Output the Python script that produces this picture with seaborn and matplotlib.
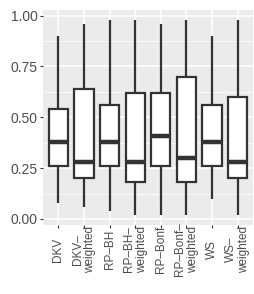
import pandas as pd
import matplotlib.pyplot as plt
import seaborn as sns

methods = ["DKV", "DKV–\nweighted", "RP–BH", "RP–BH–\nweighted",
           "RP–Bonf", "RP–Bonf–\nweighted", "WS", "WS–\nweighted"]
lower = [0.08, 0.06, 0.04, 0.02, 0.02, 0.02, 0.10, 0.02]
q1 = [0.26, 0.20, 0.26, 0.18, 0.26, 0.18, 0.26, 0.20]
median = [0.38, 0.28, 0.38, 0.28, 0.41, 0.30, 0.38, 0.28]
q3 = [0.54, 0.64, 0.56, 0.62, 0.62, 0.70, 0.56, 0.60]
upper = [0.90, 0.96, 0.98, 0.98, 0.96, 0.98, 0.90, 0.98]

# five points per method -> exact quartiles with linear percentiles
rows = []
for i, m in enumerate(methods):
    for v in (lower[i], q1[i], median[i], q3[i], upper[i]):
        rows.append({"method": m, "value": v})
df = pd.DataFrame(rows)

sns.set_theme(style="darkgrid", rc={
    "axes.facecolor": "#EBEBEB",
    "grid.color": "white",
    "axes.edgecolor": "none",
})
plt.rcParams["font.family"] = ["Liberation Sans", "DejaVu Sans"]

fig = plt.figure(figsize=(2.55, 2.94), dpi=100)
ax = fig.add_axes([0.169, 0.236, 0.823, 0.730])

dark = "#333333"
sns.boxplot(data=df, x="method", y="value", order=methods, whis=(0, 100),
            width=0.75, color="white", linecolor=dark, linewidth=1.6,
            showcaps=False, showfliers=False,
            medianprops={"linewidth": 3.2, "color": dark},
            boxprops={"facecolor": "white", "edgecolor": dark},
            ax=ax, zorder=3)

ax.set_xlim(-0.6, len(methods) - 0.4)
ax.set_ylim(-0.028, 1.028)
ax.set_yticks([0, 0.25, 0.5, 0.75, 1.0])
ax.set_yticklabels(["0.00", "0.25", "0.50", "0.75", "1.00"])
ax.set_yticks([0.125, 0.375, 0.625, 0.875], minor=True)
ax.grid(which="major", color="white", linewidth=1.1)
ax.grid(which="minor", axis="y", color="white", linewidth=0.55)
ax.set_axisbelow(True)
ax.set_xlabel("")
ax.set_ylabel("")

ax.tick_params(axis="y", which="major", length=2.5, width=0.8, color=dark,
               labelsize=10, labelcolor="#4D4D4D", pad=1.5, left=True)
ax.tick_params(axis="y", which="minor", length=0)
ax.tick_params(axis="x", length=2.5, width=0.8, color=dark, bottom=True,
               labelsize=8.5, labelcolor="#4D4D4D", pad=15.5)
for lab in ax.get_xticklabels():
    lab.set_rotation(90)
    lab.set_ha("center")
    lab.set_va("center")
    lab.set_multialignment("center")
    lab.set_linespacing(1.1)

for s in ax.spines.values():
    s.set_visible(False)

plt.savefig("out.png", dpi=100)
plt.close()
